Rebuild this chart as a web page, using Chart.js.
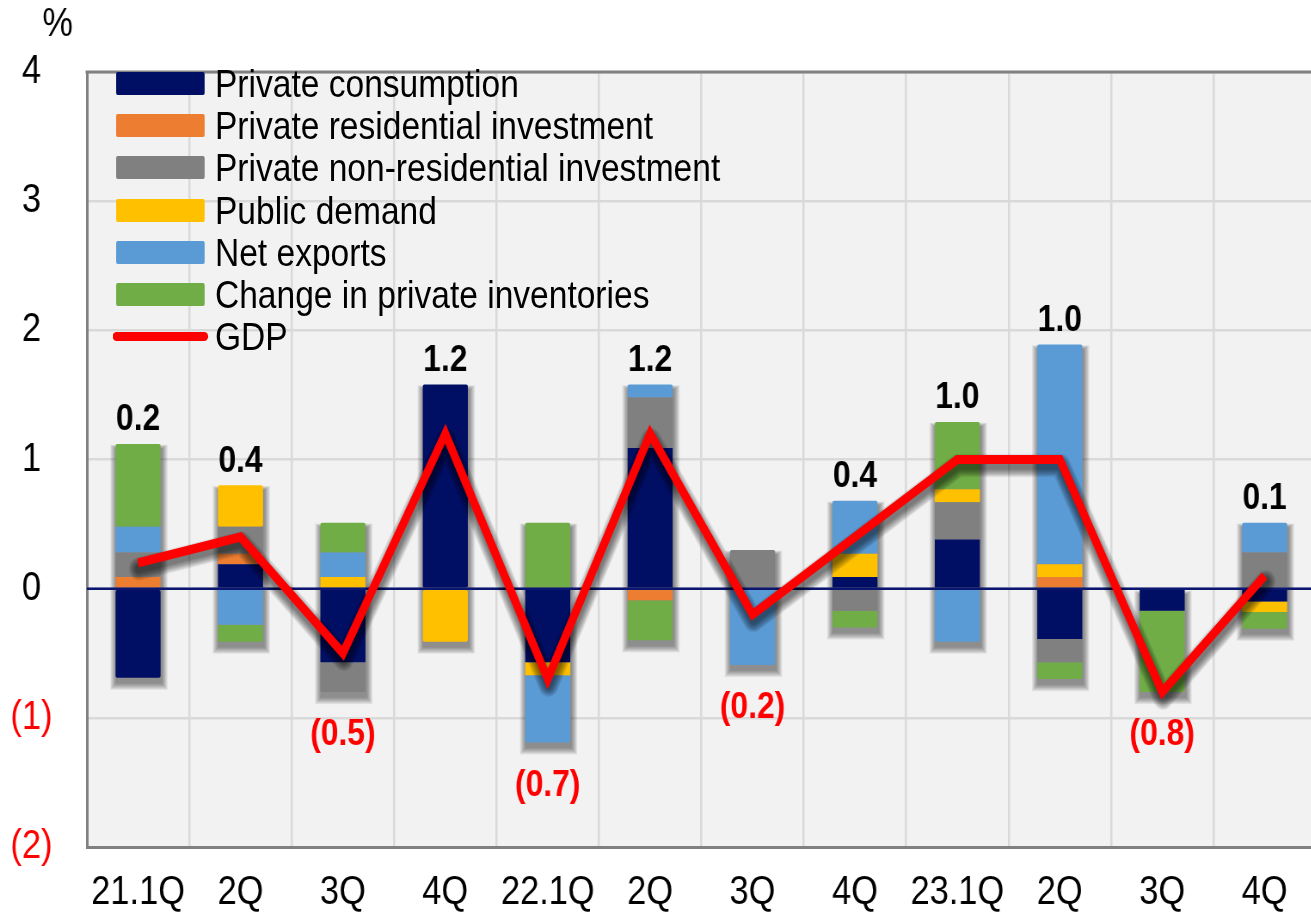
<!DOCTYPE html>
<html><head><meta charset="utf-8">
<script src="https://cdn.jsdelivr.net/npm/chart.js@4.4.1/dist/chart.umd.min.js"></script>
<style>
html,body{margin:0;padding:0;background:#fff;overflow:hidden;width:1311px;height:915px;}
#wrap{position:absolute;left:0;top:0;width:1535px;height:915px;transform:scaleX(0.86);transform-origin:0 0;}
#c{position:absolute;left:0;top:0;}
#legend{position:absolute;left:131px;top:62.4px;font-family:"Liberation Sans",Arial,sans-serif;font-size:39px;color:#000;}
.row{display:flex;align-items:center;height:42.2px;white-space:nowrap;}
.sw{width:103px;height:23px;margin-left:4px;margin-right:12px;border-radius:2px;flex:none;}
.ln{width:111px;height:9px;border-radius:5px;margin-right:8px;flex:none;}
.tx{line-height:1;}
</style></head><body>
<div id="wrap"><canvas id="c" width="1535" height="915" style="width:1535px;height:915px"></canvas><div id="legend"></div></div>
<script>
const categories = ['21.1Q','2Q','3Q','4Q','22.1Q','2Q','3Q','4Q','23.1Q','2Q','3Q','4Q'];
const seriesNames = ['Private consumption','Private residential investment','Private non-residential investment','Public demand','Net exports','Change in private inventories','GDP'];
const consumption    = [-0.69, 0.19, -0.57, 1.58, -0.57, 1.09, 0.00, 0.09, 0.38, -0.39, -0.17, -0.10];
const residential    = [ 0.09, 0.08,  0.00, 0.00,  0.00, -0.09, 0.00, 0.00, 0.00, 0.09, 0.00, 0.00];
const nonResidential = [ 0.19, 0.21, -0.23, 0.00,  0.00, 0.39, 0.30, -0.17, 0.29, -0.18, 0.00, 0.28];
const publicDemand   = [ 0.00, 0.32,  0.09, -0.41, -0.10, 0.00, 0.00, 0.18, 0.10, 0.10, 0.00, -0.08];
const netExports     = [ 0.20, -0.28, 0.19, 0.00, -0.52, 0.10, -0.59, 0.41, -0.41, 1.70, 0.00, 0.23];
const inventories    = [ 0.64, -0.13, 0.23, 0.00,  0.51, -0.31, 0.00, -0.13, 0.52, -0.13, -0.63, -0.13];
const gdp            = [ 0.2, 0.4, -0.5, 1.2, -0.7, 1.2, -0.2, 0.4, 1.0, 1.0, -0.8, 0.1];
const yMin = -2, yMax = 4, yStep = 1;
const unitLabel = '%';

const FONT = '"Liberation Sans", Arial, sans-serif';
const colors = ['#000f64','#ed7d31','#808080','#ffc000','#5b9bd5','#70ad47','#ff0000'];
const barSeries = [consumption, residential, nonResidential, publicDemand, netExports, inventories];

const datasets = barSeries.map((d,i)=>({
  type:'bar', label: seriesNames[i], data: d, backgroundColor: colors[i],
  stack:'bars', order:1, barPercentage:0.44, categoryPercentage:1, borderWidth:0,
  borderRadius: 2, borderSkipped: false
}));
datasets.push({
  type:'line', label: seriesNames[6], data: gdp, borderColor: colors[6], backgroundColor: colors[6],
  borderWidth: 9, pointRadius: 0, pointHoverRadius:0, tension: 0, order: 0, stack:'gdp',
  borderJoinStyle:'miter', borderCapStyle:'butt', fill:false
});

const fmt = v => v < 0 ? '(' + Math.abs(v).toFixed(1) + ')' : v.toFixed(1);

const decor = {
  id:'decor',
  beforeDraw(chart){
    const {ctx, chartArea:a} = chart;
    ctx.save(); ctx.fillStyle = '#f2f2f2';
    ctx.fillRect(a.left, a.top, a.right - a.left, a.bottom - a.top);
    ctx.restore();
  },
  beforeDatasetsDraw(chart){
    const {ctx, chartArea:a} = chart;
    ctx.save();
    ctx.strokeStyle = '#808080'; ctx.lineWidth = 3;
    ctx.beginPath(); ctx.moveTo(a.left - 1.5, a.top); ctx.lineTo(a.right, a.top); ctx.stroke();
    ctx.restore();
    // soft drop shadows behind each bar stack
    const ext = categories.map(() => ({l: Infinity, r: -Infinity, t: Infinity, b: -Infinity}));
    chart.data.datasets.forEach((ds, i) => {
      if (ds.type !== 'bar') return;
      chart.getDatasetMeta(i).data.forEach((el, j) => {
        const p = el.getProps(['x','y','base','width'], true);
        if (Math.abs(p.base - p.y) < 0.5) return;
        const e = ext[j];
        e.l = Math.min(e.l, p.x - p.width/2); e.r = Math.max(e.r, p.x + p.width/2);
        e.t = Math.min(e.t, p.y, p.base); e.b = Math.max(e.b, p.y, p.base);
      });
    });
    ctx.save();
    ctx.fillStyle = 'rgba(0,0,0,0.055)';
    ext.forEach(e => {
      if (!isFinite(e.l)) return;
      for (let k = 9; k >= 1; k--) {
        const s = k * 0.8;
        const L = e.l - s + 1, R = e.r + s + 1, T = e.t + 5 - s * 0.6, B = e.b + 5 + s;
        ctx.fillRect(L, T, R - L, B - T);
      }
    });
    ctx.restore();
  },
  beforeDatasetDraw(chart, args){
    if (chart.data.datasets[args.index].type !== 'line') return;
    const {ctx, chartArea:a} = chart;
    const y0 = chart.scales.y.getPixelForValue(0);
    ctx.save();
    ctx.strokeStyle = '#0a1670'; ctx.lineWidth = 2.5;
    ctx.beginPath(); ctx.moveTo(a.left, y0); ctx.lineTo(a.right, y0); ctx.stroke();
    ctx.restore();
    // soft shadow under the GDP line
    const pts = chart.getDatasetMeta(args.index).data.map(el => el.getProps(['x','y'], true));
    ctx.save();
    ctx.lineJoin = 'round'; ctx.lineCap = 'round';
    ctx.strokeStyle = 'rgba(0,0,0,0.08)';
    for (let k = 7; k >= 0; k--) {
      ctx.lineWidth = 8 + k * 2.2;
      ctx.beginPath();
      pts.forEach((p, i) => { if (i === 0) ctx.moveTo(p.x + 1, p.y + 6); else ctx.lineTo(p.x + 1, p.y + 6); });
      ctx.stroke();
    }
    ctx.restore();
  },
  afterDatasetsDraw(chart){
    const {ctx} = chart;
    const xs = chart.scales.x, ys = chart.scales.y;
    ctx.save();
    ctx.font = 'bold 37px ' + FONT;
    ctx.textAlign = 'center'; ctx.textBaseline = 'middle';
    gdp.forEach((v, i) => {
      let pos = 0, neg = 0;
      barSeries.forEach(s => { if (s[i] > 0) pos += s[i]; else neg += s[i]; });
      const x = xs.getPixelForValue(i);
      if (v >= 0) {
        ctx.fillStyle = '#000';
        ctx.fillText(fmt(v), x, ys.getPixelForValue(pos) - 24);
      } else {
        ctx.fillStyle = '#ff0000';
        ctx.fillText(fmt(v), x, ys.getPixelForValue(neg) + 43);
      }
    });
    ctx.font = '40px ' + FONT;
    ctx.fillStyle = '#000';
    ctx.fillText(unitLabel, 67, 25);
    ctx.restore();
  }
};

const chart = new Chart(document.getElementById('c'), {
  data: { labels: categories, datasets },
  options: {
    responsive: false, animation: false, devicePixelRatio: 1,
    layout: { padding: { top: 72, left: 0, right: 5, bottom: 0 } },
    plugins: { legend: { display: false }, tooltip: { enabled: false }, title: { display: false } },
    scales: {
      x: {
        stacked: true,
        grid: { color: '#d9d9d9', lineWidth: 2.5, offset: true, drawTicks: false },
        border: { color: '#808080', width: 3 },
        ticks: { font: { family: FONT, size: 40 }, color: '#000', padding: 22, maxRotation: 0, autoSkip: false },
        afterFit: s => { s.height = 68; }
      },
      y: {
        stacked: true, min: yMin, max: yMax,
        grid: { color: '#d9d9d9', lineWidth: 2.5, drawTicks: false },
        border: { color: '#808080', width: 3 },
        ticks: {
          stepSize: yStep, padding: 40, crossAlign: 'center',
          font: { family: FONT, size: 40 },
          color: c => c.tick.value < 0 ? '#ff0000' : '#000',
          callback: v => v < 0 ? '(' + Math.abs(v) + ')' : String(v)
        },
        afterFit: s => { s.width = 101; }
      }
    }
  },
  plugins: [decor]
});

const lg = document.getElementById('legend');
chart.data.datasets.forEach(ds => {
  const row = document.createElement('div'); row.className = 'row';
  const mk = document.createElement('div');
  if (ds.type === 'line') { mk.className = 'ln'; mk.style.background = ds.borderColor; }
  else { mk.className = 'sw'; mk.style.background = ds.backgroundColor; }
  const t = document.createElement('span'); t.className = 'tx'; t.textContent = ds.label;
  row.appendChild(mk); row.appendChild(t); lg.appendChild(row);
});
</script>
</body></html>
